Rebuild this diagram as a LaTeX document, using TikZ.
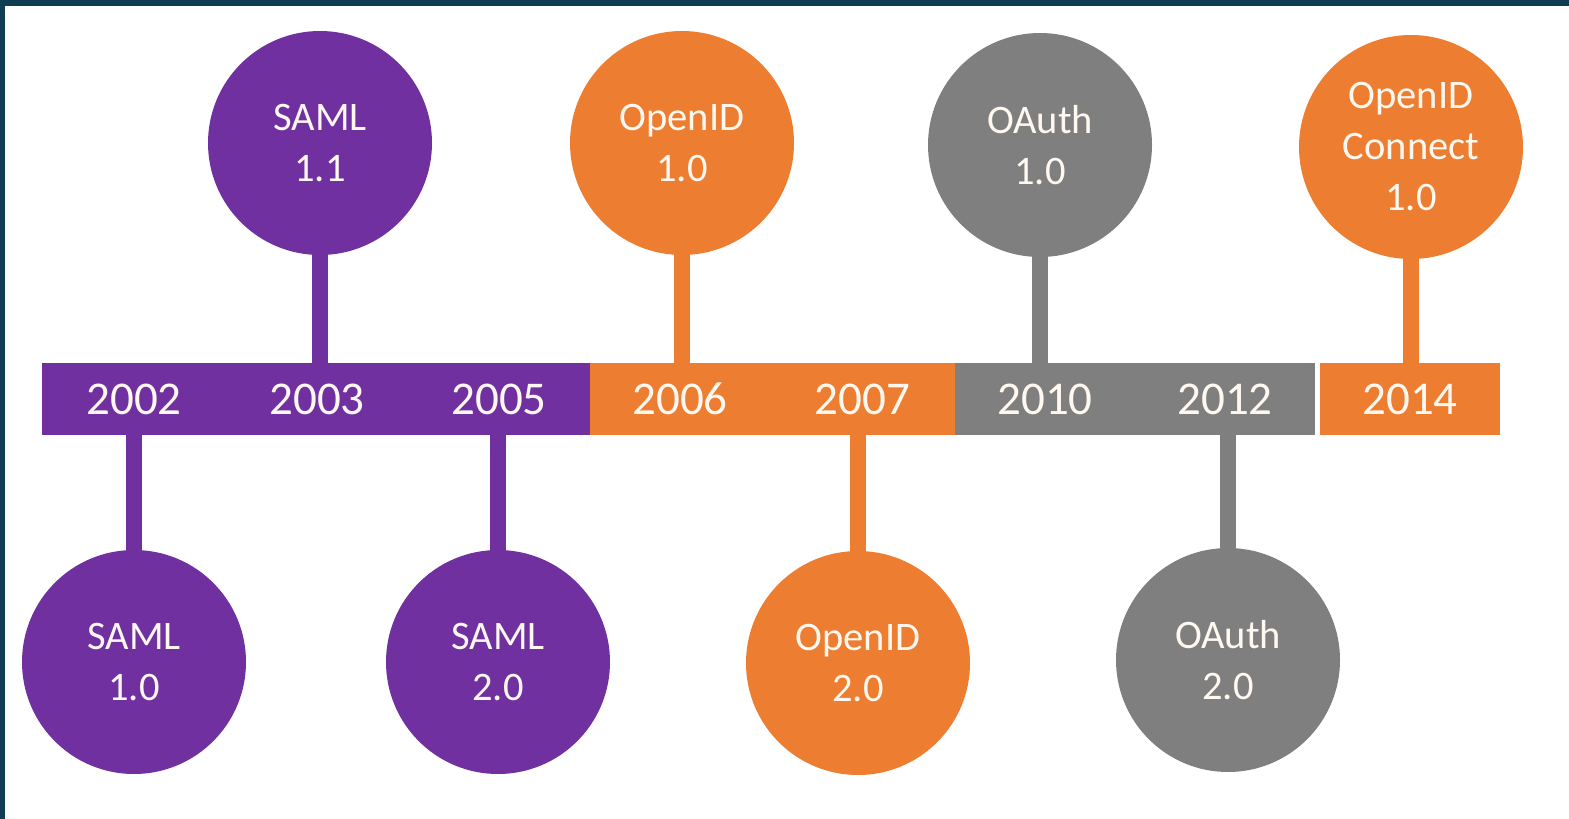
\documentclass[tikz,border=0pt]{standalone}
\usepackage{fontspec}
\setmainfont{Carlito}
\definecolor{cpurple}{HTML}{7030A0}
\definecolor{corange}{HTML}{ED7D31}
\definecolor{cgray}{HTML}{7F7F7F}
\definecolor{cframe}{HTML}{0F3D52}
\definecolor{ctext}{HTML}{FFF8F0}
\begin{document}
\begin{tikzpicture}[x=1pt,y=-1pt,
  yearbox/.style={rectangle,inner sep=0pt,outer sep=0pt,minimum height=72pt,
    text=ctext,font=\fontsize{47}{56}\selectfont},
  event/.style={circle,inner sep=0pt,outer sep=0pt,minimum size=224pt,
    text=ctext,align=center,font=\fontsize{40.5}{51}\selectfont},
  stem/.style={line width=16pt,line cap=butt}]
\useasboundingbox (0,0) rectangle (1569,819);
\fill[white] (0,0) rectangle (1569,819);
\fill[cframe] (0,0) rectangle (1569,6);
\fill[cframe] (0,0) rectangle (5,819);

% timeline boxes
\node[yearbox,fill=cpurple,minimum width=184pt] (y2002) at (134,399) {2002};
\node[yearbox,fill=cpurple,minimum width=182pt] (y2003) at (317,399) {2003};
\node[yearbox,fill=cpurple,minimum width=182pt] (y2005) at (499,399) {2005};
\node[yearbox,fill=corange,minimum width=180pt] (y2006) at (680,399) {2006};
\node[yearbox,fill=corange,minimum width=185pt] (y2007) at (862.5,399) {2007};
\node[yearbox,fill=cgray,minimum width=180pt] (y2010) at (1045,399) {2010};
\node[yearbox,fill=cgray,minimum width=180pt] (y2012) at (1225,399) {2012};
\node[yearbox,fill=corange,minimum width=180pt] (y2014) at (1410,399) {2014};

% events above
\node[event,fill=cpurple] (saml11) at (320,143) {SAML\\1.1};
\node[event,fill=corange] (oid10) at (682,143) {OpenID\\1.0};
\node[event,fill=cgray] (oauth10) at (1040,145) {OAuth\\1.0};
\node[event,fill=corange] (oidc10) at (1411,147) {OpenID\\Connect\\1.0};

% events below
\node[event,fill=cpurple] (saml10) at (134,662) {SAML\\1.0};
\node[event,fill=cpurple] (saml20) at (498,662) {SAML\\2.0};
\node[event,fill=corange] (oid20) at (858,663) {OpenID\\2.0};
\node[event,fill=cgray] (oauth20) at (1228,660) {OAuth\\2.0};

% stems
\draw[stem,cpurple] ([yshift=2pt]saml11.south) -- (saml11.south |- y2003.north);
\draw[stem,corange] ([yshift=2pt]oid10.south) -- (oid10.south |- y2006.north);
\draw[stem,cgray] ([yshift=2pt]oauth10.south) -- (oauth10.south |- y2010.north);
\draw[stem,corange] ([yshift=2pt]oidc10.south) -- (oidc10.south |- y2014.north);
\draw[stem,cpurple] ([yshift=-2pt]saml10.north) -- (saml10.north |- y2002.south);
\draw[stem,cpurple] ([yshift=-2pt]saml20.north) -- (saml20.north |- y2005.south);
\draw[stem,corange] ([yshift=-2pt]oid20.north) -- (oid20.north |- y2007.south);
\draw[stem,cgray] ([yshift=-2pt]oauth20.north) -- (oauth20.north |- y2012.south);
\end{tikzpicture}
\end{document}
